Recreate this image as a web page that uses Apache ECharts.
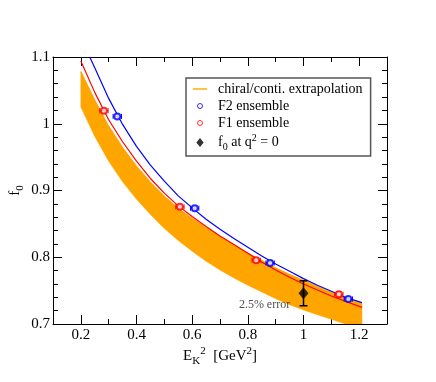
<!DOCTYPE html>
<html><head><meta charset="utf-8">
<script src="https://cdn.jsdelivr.net/npm/echarts@6/dist/echarts.min.js"></script>
<style>html,body{margin:0;padding:0;background:#fff}#c{width:436px;height:382px}</style>
</head><body><div id="c"></div>
<script>
// ---- tick labels ----
const xMajorTicks = [0.2, 0.4, 0.6, 0.8, 1.0, 1.2];
const xMinorTicks = [0.1, 0.3, 0.5, 0.7, 0.9, 1.1, 1.3];
const yMajorTicks = [0.7, 0.8, 0.9, 1.0, 1.1];

// ---- data points ----
const f2X = [0.331, 0.609, 0.880, 1.161];
const f2Y = [1.011, 0.8735, 0.7915, 0.7375];
const f2Xerr = [0.015, 0.015, 0.015, 0.015];
const f2Yerr = [0.003, 0.003, 0.003, 0.003];

const f1X = [0.283, 0.556, 0.830, 1.127];
const f1Y = [1.0195, 0.8755, 0.7955, 0.7445];
const f1Xerr = [0.015, 0.015, 0.015, 0.015];
const f1Yerr = [0.003, 0.003, 0.003, 0.004];

const f0X = [1.0];
const f0Y = [0.746];
const f0Yerr = [0.0187];

// ---- fit curves ----
const blueX = [0.232, 0.25, 0.30, 0.35, 0.40, 0.45, 0.50, 0.55, 0.60, 0.65, 0.70, 0.75, 0.80, 0.85, 0.90, 0.95, 1.00, 1.05, 1.10, 1.15, 1.21];
const blueY = [1.100, 1.084, 1.038, 0.999, 0.966, 0.938, 0.914, 0.892, 0.874, 0.857, 0.842, 0.828, 0.815, 0.802, 0.790, 0.779, 0.768, 0.758, 0.749, 0.740, 0.732];

const curveX = [0.20, 0.25, 0.30, 0.35, 0.40, 0.45, 0.50, 0.55, 0.60, 0.65, 0.70, 0.75, 0.80, 0.85, 0.90, 0.95, 1.00, 1.05, 1.10, 1.15, 1.21];
const redY   = [1.094, 1.047, 1.006, 0.973, 0.944, 0.918, 0.896, 0.877, 0.861, 0.846, 0.832, 0.819, 0.806, 0.793, 0.781, 0.770, 0.760, 0.751, 0.742, 0.734, 0.725];
const bandTop = [1.078, 1.035, 0.996, 0.964, 0.936, 0.912, 0.891, 0.873, 0.858, 0.844, 0.831, 0.818, 0.806, 0.795, 0.784, 0.774, 0.765, 0.756, 0.747, 0.739, 0.731];
const bandBot = [1.025, 0.981, 0.944, 0.913, 0.887, 0.864, 0.843, 0.825, 0.809, 0.794, 0.781, 0.769, 0.758, 0.748, 0.738, 0.729, 0.721, 0.714, 0.707, 0.700, 0.693];

const noteText = '2.5% error';
const notePos = [0.86, 0.729];

const serif = 'Liberation Serif';
const zip = (xs, ys) => xs.map((x, i) => [x, ys[i]]);
const isIn = (arr, v) => arr.some(a => Math.abs(a - v) < 1e-6);
const fmtX = v => isIn(xMajorTicks, v) ? String(Math.round(v * 10) / 10) : '';
const fmtY = v => isIn(yMajorTicks, v) ? String(Math.round(v * 10) / 10) : '';

const chart = echarts.init(document.getElementById('c'), null, {renderer: 'canvas', width: 436, height: 382});

function errRender(params, api) {
  const x = api.value(0), y = api.value(1), xe = api.value(2), ye = api.value(3);
  const c = api.coord([x, y]);
  const l = api.coord([x - xe, y]), r = api.coord([x + xe, y]);
  const t = api.coord([x, y + ye]), b = api.coord([x, y - ye]);
  const col = api.visual('color');
  const st = {stroke: col, lineWidth: 1};
  const cap = 2.5;
  const ch = [];
  if (xe > 0) {
    ch.push({type: 'line', shape: {x1: l[0], y1: c[1], x2: r[0], y2: c[1]}, style: st});
    ch.push({type: 'line', shape: {x1: l[0], y1: c[1] - cap, x2: l[0], y2: c[1] + cap}, style: st});
    ch.push({type: 'line', shape: {x1: r[0], y1: c[1] - cap, x2: r[0], y2: c[1] + cap}, style: st});
  }
  if (ye > 0) {
    ch.push({type: 'line', shape: {x1: c[0], y1: t[1], x2: c[0], y2: b[1]}, style: st});
    ch.push({type: 'line', shape: {x1: c[0] - cap, y1: t[1], x2: c[0] + cap, y2: t[1]}, style: st});
    ch.push({type: 'line', shape: {x1: c[0] - cap, y1: b[1], x2: c[0] + cap, y2: b[1]}, style: st});
  }
  return {type: 'group', children: ch};
}

function f0ErrRender(params, api) {
  const x = api.value(0), y = api.value(1), ye = api.value(2);
  const t = api.coord([x, y + ye]), b = api.coord([x, y - ye]);
  const st = {stroke: '#000', lineWidth: 1.5};
  const cap = 4;
  return {type: 'group', children: [
    {type: 'line', shape: {x1: t[0], y1: t[1], x2: b[0], y2: b[1]}, style: st},
    {type: 'line', shape: {x1: t[0] - cap, y1: t[1], x2: t[0] + cap, y2: t[1]}, style: st},
    {type: 'line', shape: {x1: b[0] - cap, y1: b[1], x2: b[0] + cap, y2: b[1]}, style: st}
  ]};
}

function bandRender(params, api) {
  if (params.dataIndex !== 0) return;
  const top = curveX.map((x, i) => api.coord([x, bandTop[i]]));
  const bot = curveX.map((x, i) => api.coord([x, bandBot[i]])).reverse();
  return {type: 'polygon', shape: {points: top.concat(bot)}, style: {fill: '#ffa500', stroke: '#ffa500', lineWidth: 0.5}};
}

const axisLine = {show: true, lineStyle: {color: '#000', width: 1}};
const richText = {
  sp: {width: 6, fontFamily: serif, fontSize: 14},
  t: {fontFamily: serif, fontSize: 14, color: '#000'},
  sub: {fontFamily: serif, fontSize: 10, color: '#000', padding: [9, 0, 0, 0]},
  sup: {fontFamily: serif, fontSize: 10, color: '#000', padding: [0, 0, 9, 0]}
};
const richAxis = {
  t: {fontFamily: serif, fontSize: 15, color: '#000'},
  sub: {fontFamily: serif, fontSize: 11, color: '#000', padding: [10, 0, 0, 0]},
  sup: {fontFamily: serif, fontSize: 11, color: '#000', padding: [0, 0, 10, 0]}
};
// legend icons (ring drawn inside a 9x9 box so it stays small)
const ringIcon = 'path://M-4.5,-4.5L-4.5,-4.5M4.5,4.5L4.5,4.5M2.5,0A2.5,2.5,0,1,1,-2.5,0A2.5,2.5,0,1,1,2.5,0Z';
const diamondIcon = 'path://M0,-4.5L3.7,0L0,4.5L-3.7,0Z';
const lineIcon = 'path://M0,0H20V2H0Z';

const option = {
  animation: false,
  backgroundColor: '#fff',
  grid: {left: 50, right: 49, top: 57, bottom: 58},
  legend: {
    orient: 'vertical', left: 186, top: 78,
    padding: [4, 8, 4, 7],
    borderColor: '#555', borderWidth: 1.5,
    itemWidth: 14, itemHeight: 9, itemGap: 3,
    selectedMode: false,
    textStyle: {fontFamily: serif, fontSize: 14, color: '#000', rich: richText},
    data: [
      {name: 'chiral/conti. extrapolation', icon: lineIcon, itemStyle: {color: '#ffa500', borderWidth: 0}},
      {name: 'F2 ensemble', icon: ringIcon, itemStyle: {color: '#ffffff', borderColor: '#0000ff', borderWidth: 1}},
      {name: 'F1 ensemble', icon: ringIcon, itemStyle: {color: '#ffffff', borderColor: '#ff0000', borderWidth: 1}},
      {name: 'f0', icon: diamondIcon, itemStyle: {color: '#000', borderWidth: 0}}
    ],
    formatter: name => name === 'f0' ? '{sp|}{t|f}{sub|0}{t| at q}{sup|2}{t| = 0}' : '{sp|}{t|' + name + '}'
  },
  xAxis: [
    {type: 'value', position: 'bottom', min: 0.1, max: 1.3, interval: 0.1, axisLine,
      splitLine: {show: false},
      axisTick: {show: false},
      axisLabel: {show: true, formatter: fmtX, fontFamily: serif, fontSize: 15, color: '#000', margin: 4, hideOverlap: false, showMinLabel: true, showMaxLabel: true},
      name: '{t|E}{sub|K}{sup|2}{t|  [GeV}{sup|2}{t|]}', nameLocation: 'middle', nameGap: 22, nameMoveOverlap: false,
      nameTextStyle: {rich: richAxis}},
    {type: 'value', position: 'top', min: 0.1, max: 1.3, axisLine,
      splitLine: {show: false},
      axisTick: {show: true, inside: true, length: 9, customValues: xMajorTicks, lineStyle: {color: '#000'}},
      axisLabel: {show: false}},
    {type: 'value', position: 'bottom', min: 0.1, max: 1.3, axisLine: {show: false},
      splitLine: {show: false},
      axisTick: {show: true, inside: true, length: 9, customValues: xMajorTicks, lineStyle: {color: '#000'}},
      axisLabel: {show: false}},
    {type: 'value', position: 'bottom', min: 0.1, max: 1.3, axisLine: {show: false},
      splitLine: {show: false},
      axisTick: {show: true, inside: true, length: 5, customValues: xMinorTicks, lineStyle: {color: '#000'}},
      axisLabel: {show: false}},
    {type: 'value', position: 'top', min: 0.1, max: 1.3, axisLine: {show: false},
      splitLine: {show: false},
      axisTick: {show: true, inside: true, length: 5, customValues: xMinorTicks, lineStyle: {color: '#000'}},
      axisLabel: {show: false}}
  ],
  yAxis: [
    {type: 'value', position: 'left', min: 0.7, max: 1.1, interval: 0.1, axisLine,
      splitLine: {show: false},
      axisTick: {show: true, inside: true, length: 9, lineStyle: {color: '#000'}},
      minorTick: {show: true, splitNumber: 5, length: 5, lineStyle: {color: '#000'}},
      minorSplitLine: {show: false},
      axisLabel: {show: true, formatter: fmtY, fontFamily: serif, fontSize: 15, color: '#000', margin: 3, hideOverlap: false},
      name: '{t|f}{sub|0}', nameLocation: 'middle', nameGap: 27, nameRotate: 90, nameMoveOverlap: false,
      nameTextStyle: {rich: richAxis}},
    {type: 'value', position: 'right', min: 0.7, max: 1.1, interval: 0.1, axisLine,
      splitLine: {show: false},
      axisTick: {show: true, inside: true, length: 9, lineStyle: {color: '#000'}},
      minorTick: {show: true, splitNumber: 5, length: 5, lineStyle: {color: '#000'}},
      minorSplitLine: {show: false},
      axisLabel: {show: false}}
  ],
  series: [
    {type: 'custom', name: 'chiral/conti. extrapolation', renderItem: bandRender, data: [[curveX[0], bandTop[0]]],
      itemStyle: {color: '#ffa500'}, clip: true, z: 1, silent: true},
    {type: 'line', name: 'bandEdge', data: zip(curveX, bandTop), symbol: 'none', showSymbol: false,
      lineStyle: {color: '#ffa500', width: 1.2}, z: 2, clip: true},
    {type: 'line', name: 'blueFit', data: zip(blueX, blueY), symbol: 'none', lineStyle: {color: '#0000ff', width: 1.2}, z: 3, clip: true},
    {type: 'line', name: 'redFit', data: zip(curveX, redY), symbol: 'none', lineStyle: {color: '#ff0000', width: 1.2}, z: 3, clip: true},
    {type: 'custom', name: 'F2err', renderItem: errRender, itemStyle: {color: '#0000ff'},
      data: f2X.map((x, i) => [x, f2Y[i], f2Xerr[i], f2Yerr[i]]), z: 4},
    {type: 'custom', name: 'F1err', renderItem: errRender, itemStyle: {color: '#ff0000'},
      data: f1X.map((x, i) => [x, f1Y[i], f1Xerr[i], f1Yerr[i]]), z: 4},
    {type: 'scatter', name: 'F2 ensemble', data: zip(f2X, f2Y), symbol: 'emptyCircle', symbolSize: 6,
      itemStyle: {color: '#0000ff', borderColor: '#0000ff', borderWidth: 1}, z: 5},
    {type: 'scatter', name: 'F1 ensemble', data: zip(f1X, f1Y), symbol: 'emptyCircle', symbolSize: 6,
      itemStyle: {color: '#ff0000', borderColor: '#ff0000', borderWidth: 1}, z: 5},
    {type: 'custom', name: 'f0err', renderItem: f0ErrRender, data: f0X.map((x, i) => [x, f0Y[i], f0Yerr[i]]), z: 5},
    {type: 'scatter', name: 'f0', data: zip(f0X, f0Y), symbol: 'diamond', symbolSize: [10, 12],
      itemStyle: {color: '#000'}, z: 6},
    {type: 'scatter', name: 'note', data: [notePos], symbolSize: 0, silent: true, z: 6,
      label: {show: true, position: 'inside', formatter: noteText, fontFamily: serif, fontSize: 12, color: '#222'}}
  ]
};
chart.setOption(option);
</script></body></html>
